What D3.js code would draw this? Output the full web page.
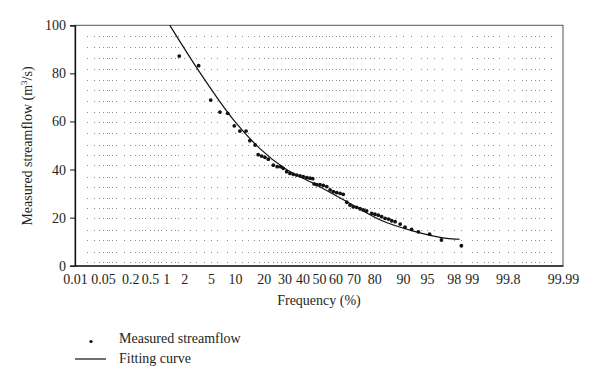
<!DOCTYPE html>
<html>
<head>
<meta charset="utf-8">
<script src="https://cdn.jsdelivr.net/npm/d3@7"></script>
<style>
  body { margin: 0; background: #fff; }
  svg text { font-family: "Liberation Serif", "DejaVu Serif", serif; fill: #231f20; }
</style>
</head>
<body>
<svg id="chart" width="600" height="389"></svg>
<script>
// frequency (%) tick labels on probability paper
var freqTicks = [0.01, 0.05, 0.2, 0.5, 1, 2, 5, 10, 20, 30, 40, 50, 60, 70, 80, 90, 95, 98, 99, 99.8, 99.99];
var flowTicks = [0, 20, 40, 60, 80, 100];

// measured streamflow: plotting frequency (%) and flow (m3/s)
var measFreq = [1.66, 3.33, 4.94, 6.56, 8.2, 9.83, 11.4, 13.3, 14.6, 16.5, 17.7, 19.1, 20.5, 22.0, 24.3,
  26.2, 28.0, 29.3, 31.1, 32.9, 34.8, 36.7, 38.6, 40.5, 42.6, 44.5, 46.2, 47.0, 48.6, 50.6,
  52.6, 54.7, 56.7, 58.6, 60.6, 62.6, 64.4, 66.4, 68.2, 69.9, 71.7, 73.4, 75.0, 76.6, 78.9,
  80.3, 81.7, 83.0, 84.3, 85.5, 86.6, 87.7, 89.2, 90.5, 92.1, 93.5, 95.4, 96.9, 98.5];
var measFlow = [87.2, 83.2, 68.9, 63.9, 63.4, 58.2, 56.0, 56.0, 52.0, 50.2, 46.2, 45.6, 45.1, 44.3, 41.8,
  41.2, 41.2, 40.5, 39.1, 38.4, 38.0, 37.7, 37.4, 37.0, 36.6, 36.4, 36.2, 34.0, 33.7, 33.7,
  33.4, 32.9, 31.5, 30.8, 30.4, 30.1, 29.7, 26.4, 25.2, 24.5, 24.3, 23.7, 23.2, 22.8, 21.8,
  21.4, 21.0, 20.4, 19.7, 19.4, 18.7, 18.3, 17.3, 16.0, 15.1, 14.1, 13.1, 10.7, 8.3];

// fitting curve
var fitFreq = [1.15, 3.5, 10, 18.4, 30, 46.5, 66.5, 82.5, 92.5, 97.4, 98.4];
var fitFlow = [100, 80.2, 59.9, 48.7, 40.5, 34.3, 26.6, 19, 14.4, 11.4, 11.0];

// dotted background grid of the probability paper
var gridFlow = [1.7, 5.8, 10.7, 14.9, 19.7, 23.9, 28, 32.9, 37, 41.9, 46, 50.2, 55.1, 59.9,
  64.1, 68.5, 73.1, 77.2, 81.7, 86.3, 91.1, 95.5];
var gridFreq = [0.02, 0.03, 0.04, 0.05, 0.06, 0.07, 0.08, 0.1, 0.15, 0.2, 0.25, 0.3, 0.35, 0.4, 0.5,
  0.6, 0.7, 0.8, 1, 1.2, 1.4, 1.6, 2, 2.5, 3, 4, 5, 6, 8, 10, 12, 14, 16, 18, 20, 22, 24, 26, 28, 30,
  32, 34, 36, 38, 40, 42, 44, 46, 48, 50, 52, 54, 56, 58, 60, 62, 64, 66, 68, 70, 72, 74, 76, 78, 80,
  82, 84, 86, 88, 90, 92, 94, 95, 96, 97, 98, 98.5, 99, 99.2, 99.4, 99.5, 99.6, 99.7, 99.8, 99.85,
  99.9, 99.92, 99.94, 99.95, 99.96, 99.97, 99.98];

// inverse standard normal (Acklam)
function probit(p) {
    var a = [-39.69683028665376, 220.9460984245205, -275.9285104469687, 138.3577518672690, -30.66479806614716, 2.506628277459239],
        b = [-54.47609879822406, 161.5858368580409, -155.6989798598866, 66.80131188771972, -13.28068155288572],
        c = [-0.007784894002430293, -0.3223964580411365, -2.400758277161838, -2.549732539343734, 4.374664141464968, 2.938163982698783],
        d = [0.007784695709041462, 0.3224671290700398, 2.445134137142996, 3.754408661907416];
    var plow = 0.02425, q, r;
    if (p < plow) {
        q = Math.sqrt(-2 * Math.log(p));
        return (((((c[0]*q+c[1])*q+c[2])*q+c[3])*q+c[4])*q+c[5]) / ((((d[0]*q+d[1])*q+d[2])*q+d[3])*q+1);
    }
    if (p <= 1 - plow) {
        q = p - 0.5; r = q * q;
        return (((((a[0]*r+a[1])*r+a[2])*r+a[3])*r+a[4])*r+a[5])*q / (((((b[0]*r+b[1])*r+b[2])*r+b[3])*r+b[4])*r+1);
    }
    q = Math.sqrt(-2 * Math.log(1 - p));
    return -(((((c[0]*q+c[1])*q+c[2])*q+c[3])*q+c[4])*q+c[5]) / ((((d[0]*q+d[1])*q+d[2])*q+d[3])*q+1);
}
function zOf(pct) { return probit(pct / 100); }

(function () {
    var padL = 75, padR = 563, padT = 25.3, padB = 265.7;
    var svg = d3.select("#chart");

    var x = d3.scaleLinear().domain([zOf(0.01), zOf(99.99)]).range([padL, padR]);
    var y = d3.scaleLinear().domain([0, 100]).range([padB, padT]);
    function fx(pct) { return x(zOf(pct)); }

    // grid dots
    var dots = svg.append("g").attr("fill", "#8c8c8c");
    gridFlow.forEach(function (v) {
        gridFreq.forEach(function (p) {
            dots.append("rect")
                .attr("x", Math.round(fx(p)))
                .attr("y", Math.round(y(v)))
                .attr("width", 1).attr("height", 1);
        });
    });

    // frame
    svg.append("rect")
        .attr("x", padL).attr("y", padT)
        .attr("width", padR - padL).attr("height", padB - padT)
        .attr("fill", "none").attr("stroke", "#555").attr("stroke-width", 1);

    // axes
    var yAxis = svg.append("g")
        .attr("transform", "translate(" + padL + ",0)")
        .call(d3.axisLeft(y).tickValues(flowTicks).tickSize(5).tickPadding(4));
    var xAxis = svg.append("g")
        .attr("transform", "translate(0," + padB + ")")
        .call(d3.axisBottom(x)
            .tickValues(freqTicks.map(zOf))
            .tickFormat(function (d, i) { return freqTicks[i]; })
            .tickSize(0).tickPadding(8));
    [yAxis, xAxis].forEach(function (g) {
        g.select(".domain").attr("stroke", "#111").attr("stroke-width", 1.3);
        g.selectAll(".tick line").attr("stroke", "#111");
        g.selectAll("text").attr("font-size", 14)
            .style("font-family", '"Liberation Serif", "DejaVu Serif", serif').attr("fill", "#231f20");
    });

    // axis titles
    svg.append("text")
        .attr("x", 319).attr("y", 305)
        .attr("text-anchor", "middle").attr("font-size", 14)
        .text("Frequency (%)");
    var yt = svg.append("text")
        .attr("transform", "translate(32,146) rotate(-90)")
        .attr("text-anchor", "middle").attr("font-size", 14);
    yt.append("tspan").text("Measured streamflow (m");
    yt.append("tspan").attr("font-size", 9).attr("dy", -5).text("3");
    yt.append("tspan").attr("dy", 5).text("/s)");

    // fitting curve
    var line = d3.line()
        .x(function (d, i) { return fx(fitFreq[i]); })
        .y(function (d) { return y(d); })
        .curve(d3.curveMonotoneX);
    svg.append("path")
        .datum(fitFlow)
        .attr("d", line)
        .attr("fill", "none").attr("stroke", "#111").attr("stroke-width", 1.2);

    // measured points
    svg.append("g").selectAll("circle")
        .data(measFlow)
        .enter().append("circle")
        .attr("cx", function (d, i) { return fx(measFreq[i]); })
        .attr("cy", function (d) { return y(d); })
        .attr("r", 1.9)
        .attr("fill", "#111");

    // legend
    var lg = svg.append("g").attr("font-size", 14);
    lg.append("circle").attr("cx", 91).attr("cy", 341.5).attr("r", 1.6).attr("fill", "#111");
    lg.append("text").attr("x", 119).attr("y", 343).text("Measured streamflow");
    lg.append("line").attr("x1", 75).attr("x2", 106).attr("y1", 359).attr("y2", 359)
        .attr("stroke", "#111").attr("stroke-width", 1.2);
    lg.append("text").attr("x", 119).attr("y", 363).text("Fitting curve");
})();
</script>
</body>
</html>
